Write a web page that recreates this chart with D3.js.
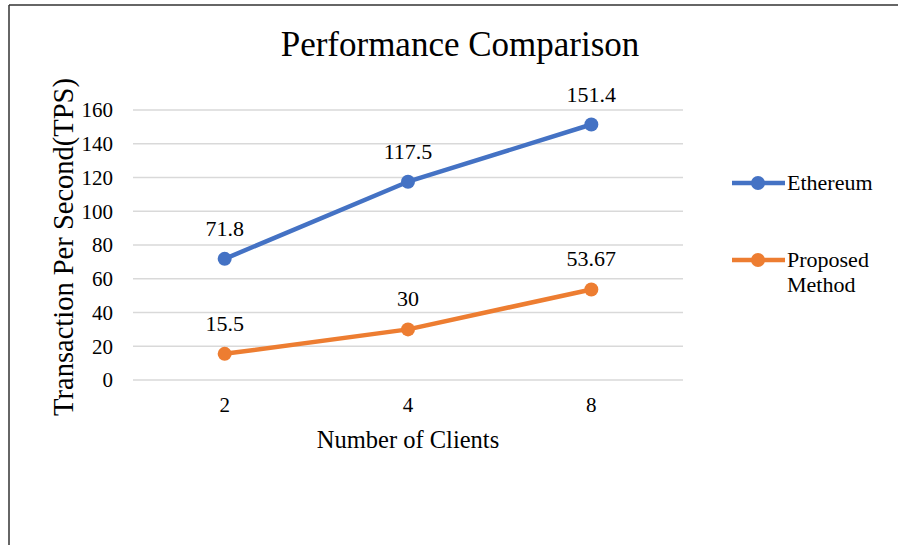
<!DOCTYPE html>
<html>
<head>
<meta charset="utf-8">
<script src="https://cdn.jsdelivr.net/npm/d3@7"></script>
<style>
  body { margin: 0; background: #fff; }
  text { font-family: "Liberation Serif", "Times New Roman", serif; fill: #000; }
</style>
</head>
<body>
<div id="chart"></div>
<script>
// data
var clients = ["2", "4", "8"];
var ethereum = [71.8, 117.5, 151.4];
var proposed = [15.5, 30, 53.67];
var ethereumLabels = ["71.8", "117.5", "151.4"];
var proposedLabels = ["15.5", "30", "53.67"];
var yTicks = [0, 20, 40, 60, 80, 100, 120, 140, 160];

var W = 898, H = 545;
var plot = {left: 133, right: 683, top: 110, bottom: 380};

var svg = d3.select("#chart")
    .append("svg")
    .attr("width", W)
    .attr("height", H);

// frame (top and left edges only visible)
svg.append("line").attr("x1", 9).attr("x2", W).attr("y1", 5).attr("y2", 5)
    .attr("stroke", "#333").attr("stroke-width", 1.5);
svg.append("line").attr("x1", 9).attr("x2", 9).attr("y1", 5).attr("y2", H)
    .attr("stroke", "#333").attr("stroke-width", 1.5);

var x = d3.scaleBand()
    .domain(clients)
    .range([plot.left, plot.right]);

var y = d3.scaleLinear()
    .domain([0, 160])
    .range([plot.bottom, plot.top]);

// gridlines
svg.append("g")
    .selectAll("line")
    .data(yTicks)
    .enter()
    .append("line")
    .attr("x1", plot.left)
    .attr("x2", plot.right)
    .attr("y1", function (d) { return y(d); })
    .attr("y2", function (d) { return y(d); })
    .attr("stroke", "#d9d9d9")
    .attr("stroke-width", 1.3);

// y tick labels
svg.append("g")
    .selectAll("text")
    .data(yTicks)
    .enter()
    .append("text")
    .attr("x", 113)
    .attr("y", function (d) { return y(d); })
    .attr("dy", "0.35em")
    .attr("text-anchor", "end")
    .style("font-size", "21px")
    .text(function (d) { return d; });

// x tick labels
svg.append("g")
    .selectAll("text")
    .data(clients)
    .enter()
    .append("text")
    .attr("x", function (d) { return x(d) + x.bandwidth() / 2; })
    .attr("y", 412)
    .attr("text-anchor", "middle")
    .style("font-size", "21px")
    .text(function (d) { return d; });

// titles
svg.append("text")
    .attr("x", 460).attr("y", 56)
    .attr("text-anchor", "middle")
    .style("font-size", "35px")
    .text("Performance Comparison");

svg.append("text")
    .attr("x", 408).attr("y", 448)
    .attr("text-anchor", "middle")
    .style("font-size", "24.5px")
    .text("Number of Clients");

svg.append("text")
    .attr("transform", "translate(73,247) rotate(-90)")
    .attr("text-anchor", "middle")
    .style("font-size", "28.5px")
    .text("Transaction Per Second(TPS)");

var series = [
    {name: "Ethereum", values: ethereum, labels: ethereumLabels, color: "#4472C4"},
    {name: "Proposed", values: proposed, labels: proposedLabels, color: "#ED7D31"}
];

var line = d3.line()
    .x(function (d, i) { return x(clients[i]) + x.bandwidth() / 2; })
    .y(function (d) { return y(d); });

series.forEach(function (s) {
    svg.append("path")
        .datum(s.values)
        .attr("d", line)
        .attr("fill", "none")
        .attr("stroke", s.color)
        .attr("stroke-width", 4.5)
        .attr("stroke-linejoin", "round");

    svg.append("g")
        .selectAll("circle")
        .data(s.values)
        .enter()
        .append("circle")
        .attr("cx", function (d, i) { return x(clients[i]) + x.bandwidth() / 2; })
        .attr("cy", function (d) { return y(d); })
        .attr("r", 7)
        .attr("fill", s.color);

    svg.append("g")
        .selectAll("text")
        .data(s.values)
        .enter()
        .append("text")
        .attr("x", function (d, i) { return x(clients[i]) + x.bandwidth() / 2; })
        .attr("y", function (d) { return y(d) - 23; })
        .attr("text-anchor", "middle")
        .style("font-size", "22px")
        .text(function (d, i) { return s.labels[i]; });
});

// legend
var legend = [
    {lines: ["Ethereum"], color: "#4472C4", y: 183},
    {lines: ["Proposed", "Method"], color: "#ED7D31", y: 260}
];
legend.forEach(function (l) {
    svg.append("line")
        .attr("x1", 732).attr("x2", 785)
        .attr("y1", l.y).attr("y2", l.y)
        .attr("stroke", l.color).attr("stroke-width", 4.5);
    svg.append("circle")
        .attr("cx", 758).attr("cy", l.y).attr("r", 7)
        .attr("fill", l.color);
    l.lines.forEach(function (t, i) {
        svg.append("text")
            .attr("x", 787)
            .attr("y", l.y + 7 + i * 25)
            .style("font-size", "22px")
            .text(t);
    });
});
</script>
</body>
</html>
